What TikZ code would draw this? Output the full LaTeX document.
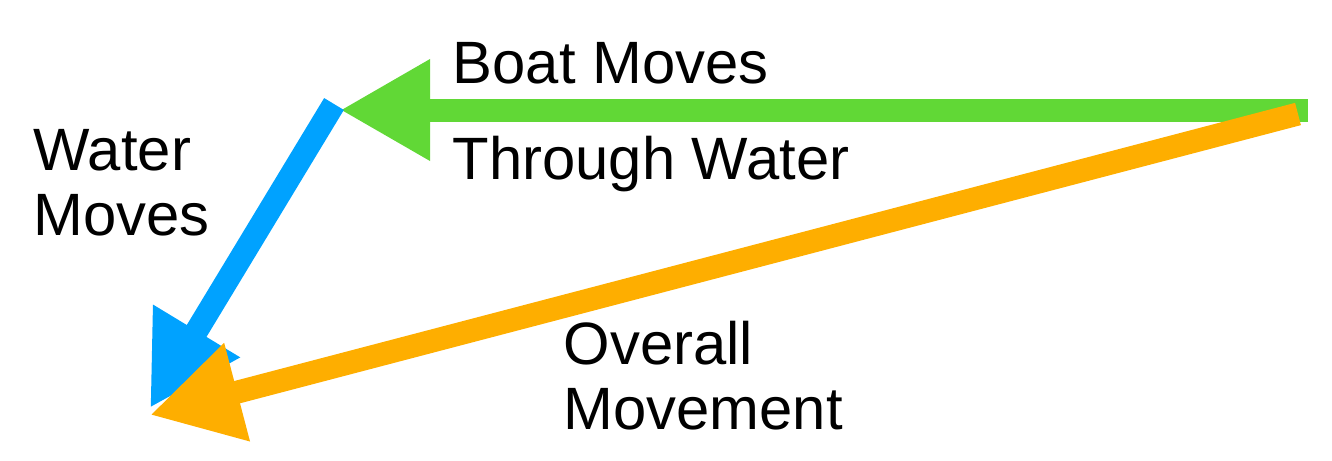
\documentclass[tikz,border=0pt]{standalone}
\usepackage{fontspec}
\setmainfont{Liberation Sans}
\usetikzlibrary{arrows.meta}
\definecolor{boatgreen}{HTML}{61D836}
\definecolor{waterblue}{HTML}{00A2FF}
\definecolor{overallorange}{HTML}{FEAE00}
\tikzset{
vector/.style={line width=0.23cm, -{Triangle[length=0.9cm,width=0.95cm]}},
vlabel/.style={inner sep=0, align=left, anchor=base west, font=\fontsize{17}{18.4}\selectfont}
}
\begin{document}
\begin{tikzpicture}[x=0.01cm,y=-0.01cm]
\useasboundingbox (0,0) rectangle (1332,460);
\coordinate (boatstart) at (1308,110);
\coordinate (boatend) at (340,110);
\coordinate (waterstart) at (334,104);
\coordinate (waterend) at (150,408);
\coordinate (overallstart) at (1298,114);
\coordinate (overallend) at (150,415);
\draw[vector, boatgreen] (boatstart) -- (boatend);
\draw[vector, waterblue] (waterstart) -- (waterend);
\draw[vector, overallorange] (overallstart) -- (overallend);
\node[vlabel] (boat) at (452,83) {Boat Moves};
\node[vlabel] (through) at (452,179) {Through Water};
\node[vlabel] (water) at (33,235) {Water\\Moves};
\node[vlabel] (overall) at (563,429) {Overall\\Movement};
\end{tikzpicture}
\end{document}
